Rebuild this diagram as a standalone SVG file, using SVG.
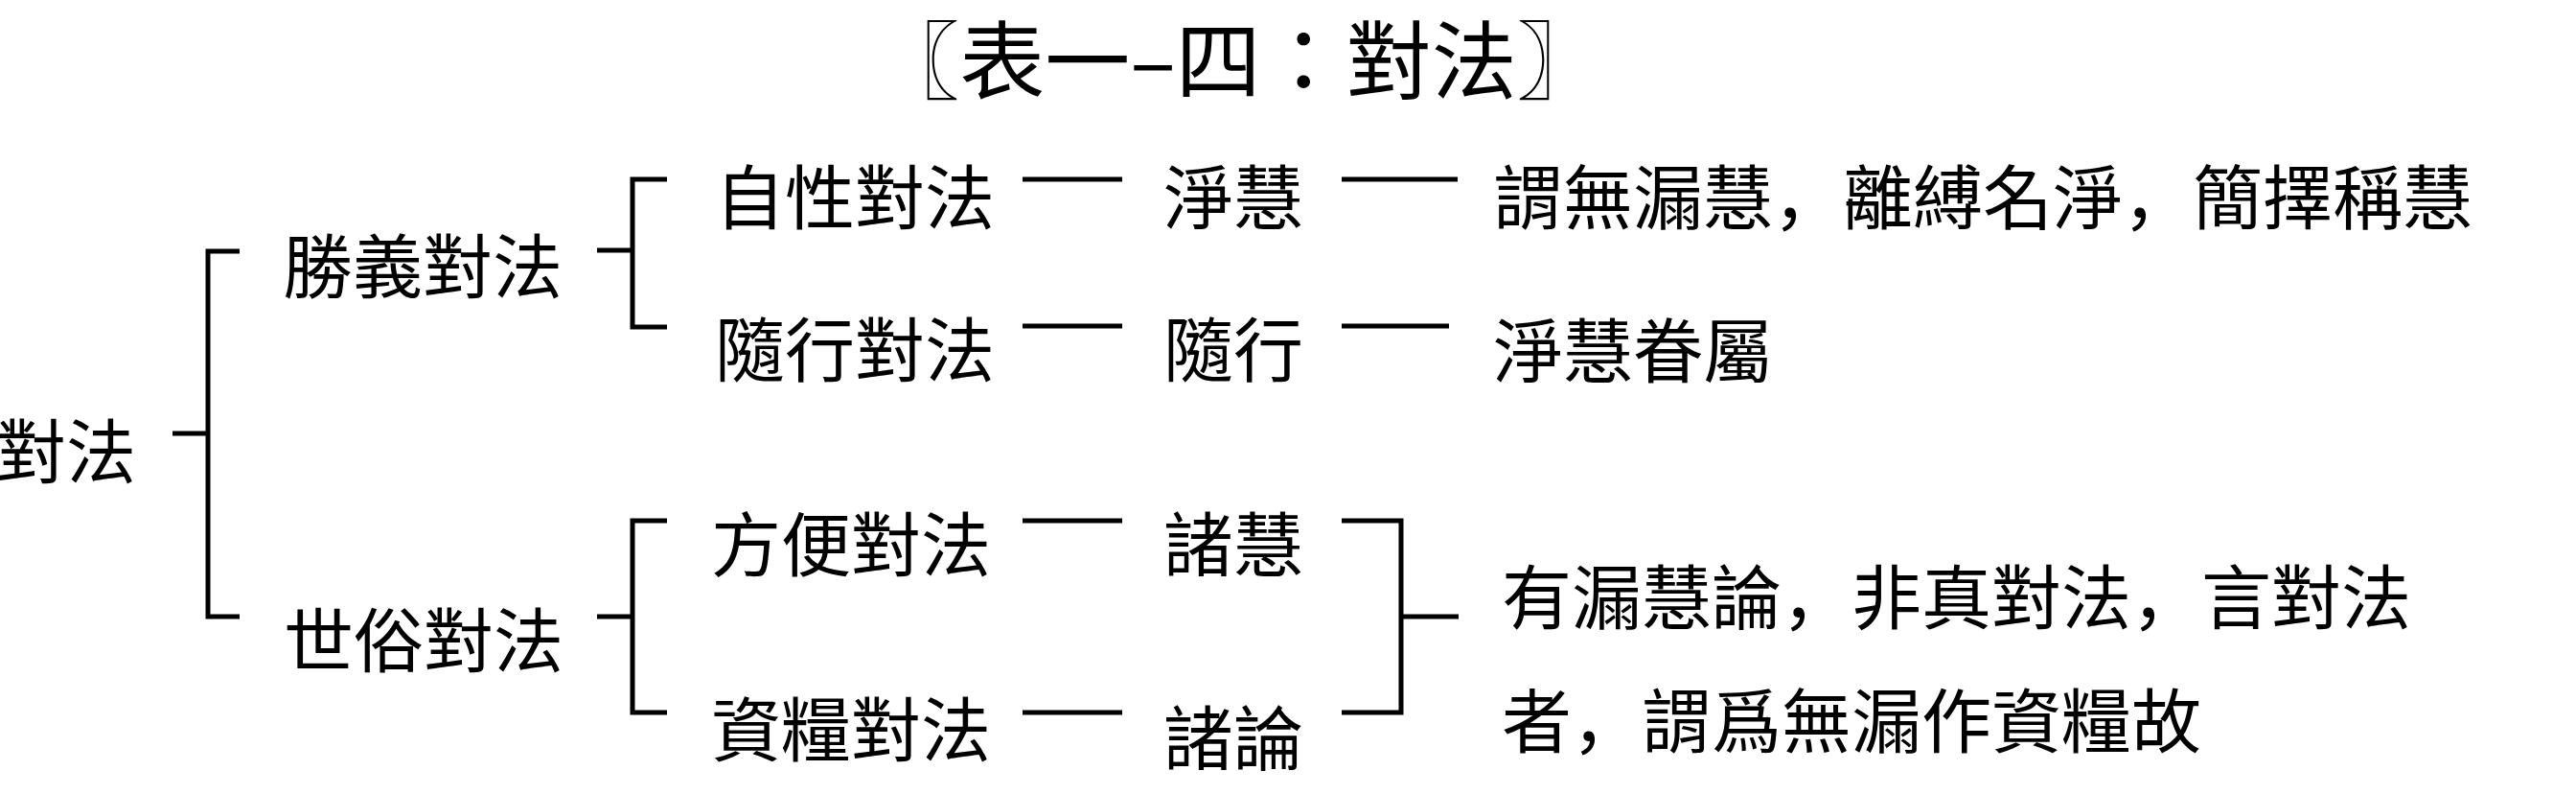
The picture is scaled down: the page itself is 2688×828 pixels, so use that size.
<svg xmlns="http://www.w3.org/2000/svg" width="2688" height="828" viewBox="0 0 2688 828">
<style>
text{font-family:"Noto Sans CJK TC","Noto Sans CJK SC",sans-serif;fill:#000;font-size:73px}
.title{font-size:89px}
.cm{font-family:"Noto Sans CJK JP","Noto Sans CJK TC",sans-serif}
.ln{fill:none;stroke:#000;stroke-width:5;stroke-linejoin:miter;stroke-linecap:butt}
</style>
<rect width="2688" height="828" fill="#fff"/>
<g id="title"><text class="title" x="1292" y="96" text-anchor="middle">〖表一–四：對法〗</text></g>
<g id="connectors">
<path class="ln" d="M250,262 H217 V643 H250"/>
<path class="ln" d="M180,452 H217"/>
<path class="ln" d="M696,187 H660 V341 H696"/>
<path class="ln" d="M623,261 H660"/>
<path class="ln" d="M696,543 H660 V743 H696"/>
<path class="ln" d="M623,643 H660"/>
<path class="ln" d="M1067,187 H1171"/>
<path class="ln" d="M1400,187 H1521"/>
<path class="ln" d="M1067,340 H1171"/>
<path class="ln" d="M1400,340 H1512"/>
<path class="ln" d="M1067,543 H1171"/>
<path class="ln" d="M1067,743 H1171"/>
<path class="ln" d="M1400,543 H1462 V743 H1400"/>
<path class="ln" d="M1462,643 H1522"/>
</g>
<g id="root"><text x="142" y="498" text-anchor="end">對法</text></g>
<g id="shengyi"><text x="295" y="305">勝義對法</text></g>
<g id="shisu"><text x="296" y="695">世俗對法</text></g>
<g id="zixing"><text x="746" y="233">自性對法</text></g>
<g id="suixing"><text x="746" y="392">隨行對法</text></g>
<g id="fangbian"><text x="742" y="595">方便對法</text></g>
<g id="ziliang"><text x="742" y="788">資糧對法</text></g>
<g id="jinghui"><text x="1214" y="233">淨慧</text></g>
<g id="suixing2"><text x="1214" y="392">隨行</text></g>
<g id="zhuhui"><text x="1214" y="595">諸慧</text></g>
<g id="zhulun"><text x="1214" y="797">諸論</text></g>
<g id="desc1"><text x="1558" y="233">謂無漏慧<tspan class="cm">，</tspan>離縛名淨<tspan class="cm">，</tspan>簡擇稱慧</text></g>
<g id="desc2"><text x="1558" y="393">淨慧眷屬</text></g>
<g id="desc3"><text x="1567" y="650">有漏慧論<tspan class="cm">，</tspan>非真對法<tspan class="cm">，</tspan>言對法</text><text x="1567" y="779">者<tspan class="cm">，</tspan>謂爲無漏作資糧故</text></g>
</svg>
